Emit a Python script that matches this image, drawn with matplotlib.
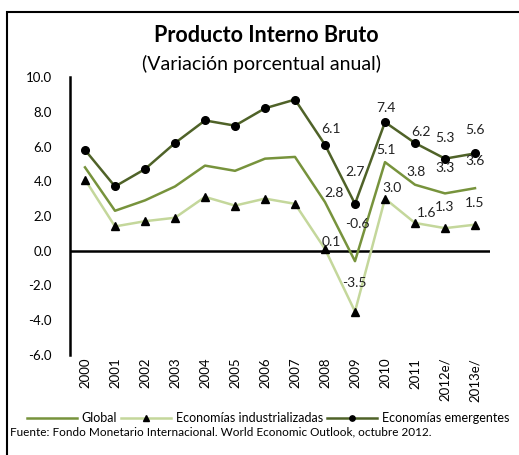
import matplotlib.pyplot as plt
import numpy as np
from matplotlib.patches import Rectangle

plt.rcParams['font.family'] = ['Lato', 'DejaVu Sans']

years = ['2000', '2001', '2002', '2003', '2004', '2005', '2006', '2007',
         '2008', '2009', '2010', '2011', '2012e/', '2013e/']
global_pib = [4.8, 2.3, 2.9, 3.7, 4.9, 4.6, 5.3, 5.4, 2.8, -0.6, 5.1, 3.8, 3.3, 3.6]
industrial = [4.1, 1.4, 1.7, 1.9, 3.1, 2.6, 3.0, 2.7, 0.1, -3.5, 3.0, 1.6, 1.3, 1.5]
emergentes = [5.8, 3.7, 4.7, 6.2, 7.5, 7.2, 8.2, 8.7, 6.1, 2.7, 7.4, 6.2, 5.3, 5.6]

# etiquetas solo desde 2008 en adelante, desplazamiento en pixeles
first_label = 8
off_emerg = [(6, 16), (0, 32), (1, 14), (6, 11), (0, 21), (0, 23)]
off_global = [(9, 9), (2, 37), (1, 12), (1, 13), (0, 25), (0, 27)]
off_indust = [(6, 7), (-1, 29), (7, 11), (12, 10), (0, 21), (0, 22)]

c_global = '#77933C'
c_indust = '#C4D79B'
c_emerg = '#4F6228'

fig = plt.figure(figsize=(5.19, 4.55), dpi=100)
ax = fig.add_axes([70 / 519, 1 - 355 / 455, 420 / 519, 278 / 455])

x = np.arange(len(years))
ax.plot(x, global_pib, color=c_global, lw=1.8, label='Global')
ax.plot(x, industrial, color=c_indust, lw=1.8, marker='^', markersize=6,
        markerfacecolor='black', markeredgecolor='black',
        label='Economías industrializadas')
ax.plot(x, emergentes, color=c_emerg, lw=1.8, marker='o', markersize=5.5,
        markerfacecolor='black', markeredgecolor='black',
        label='Economías emergentes')

for series, offs in [(emergentes, off_emerg), (global_pib, off_global),
                     (industrial, off_indust)]:
    for i, (dx, dy) in zip(range(first_label, len(years)), offs):
        ax.annotate(f'{series[i]:.1f}', (x[i], series[i]), xytext=(dx, dy),
                    textcoords='offset pixels', ha='center', va='center',
                    fontsize=10, color='#222222')

ax.axhline(0, color='black', lw=1.8, zorder=1)
ax.set_xlim(-0.5, 13.5)
ax.set_ylim(-6, 10)
ax.set_yticks(np.arange(-6, 10.1, 2))
ax.set_yticklabels([f'{v:.1f}' for v in np.arange(-6, 10.1, 2)], fontsize=9.5)
ax.set_xticks(x)
ax.set_xticklabels(years, rotation=90, fontsize=9.5)
ax.tick_params(length=0)
ax.tick_params(axis='x', pad=2)
ax.tick_params(axis='y', pad=13)
for s in ['top', 'right', 'bottom']:
    ax.spines[s].set_visible(False)
ax.spines['left'].set_linewidth(1.8)

fig.text(266 / 519, 1 - 36 / 455, 'Producto Interno Bruto', ha='center',
         va='center', fontsize=15.5, fontweight='bold')
fig.text(262 / 519, 1 - 64 / 455, '(Variación porcentual anual)', ha='center',
         va='center', fontsize=14)

fig.legend(loc='center', bbox_to_anchor=(268 / 519, 1 - 418 / 455), ncol=3,
           frameon=False, fontsize=9, handlelength=4, handletextpad=0.4,
           columnspacing=0.3, markerscale=0.7)
fig.text(10 / 519, 1 - 432 / 455,
         'Fuente: Fondo Monetario Internacional. World Economic Outlook, octubre 2012.',
         ha='left', va='center', fontsize=8.5)

fig.patches.append(Rectangle((7 / 519, -0.1), 1.2, 1 - 12 / 455 + 0.1,
                             transform=fig.transFigure, fill=False,
                             edgecolor='black', lw=1.5))

fig.savefig('out.png', dpi=100)
